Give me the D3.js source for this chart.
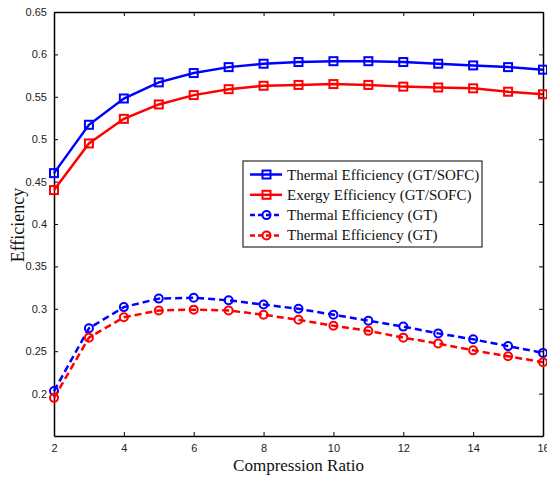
<!DOCTYPE html>
<html>
<head>
<meta charset="utf-8">
<script src="https://cdn.jsdelivr.net/npm/d3@7"></script>
<style>
  body { margin: 0; background: #fff; }
  svg { display: block; }
</style>
</head>
<body>
<svg id="chart" width="547" height="477"></svg>
<script>
var ratios = [2, 3, 4, 5, 6, 7, 8, 9, 10, 11, 12, 13, 14, 15, 16];
var thermalHybrid = [0.460, 0.517, 0.548, 0.567, 0.578, 0.585, 0.589, 0.591, 0.592, 0.592, 0.591, 0.589, 0.587, 0.585, 0.582];
var exergyHybrid = [0.440, 0.495, 0.524, 0.541, 0.552, 0.559, 0.563, 0.564, 0.565, 0.564, 0.562, 0.561, 0.560, 0.556, 0.553];
var thermalGT = [0.203, 0.277, 0.302, 0.312, 0.313, 0.310, 0.305, 0.300, 0.293, 0.286, 0.279, 0.271, 0.264, 0.256, 0.248];
var exergyGT = [0.195, 0.266, 0.290, 0.298, 0.299, 0.298, 0.293, 0.287, 0.280, 0.274, 0.266, 0.259, 0.251, 0.244, 0.237];
var xTicks = [2, 4, 6, 8, 10, 12, 14, 16];
var yTicks = [0.2, 0.25, 0.3, 0.35, 0.4, 0.45, 0.5, 0.55, 0.6, 0.65];
var seriesNames = ["Thermal Efficiency (GT/SOFC)", "Exergy Efficiency (GT/SOFC)", "Thermal Efficiency (GT)", "Thermal Efficiency (GT)"];

var series = [
  { name: seriesNames[0], values: thermalHybrid, color: "#0000ff", dash: null, marker: "square" },
  { name: seriesNames[1], values: exergyHybrid, color: "#ff0000", dash: null, marker: "square" },
  { name: seriesNames[2], values: thermalGT, color: "#0000ff", dash: "7,4", marker: "circle" },
  { name: seriesNames[3], values: exergyGT, color: "#ff0000", dash: "7,4", marker: "circle" }
];

var svg = d3.select("#chart"),
  margin = { top: 12, right: 4, bottom: 41, left: 54 },
  width = +svg.attr("width") - margin.left - margin.right,
  height = +svg.attr("height") - margin.top - margin.bottom,
  g = svg.append("g").attr("transform", "translate(" + margin.left + "," + margin.top + ")");

var x = d3.scaleLinear().domain([2, 16]).range([0, width]);
var y = d3.scaleLinear().domain([0.15, 0.65]).range([height, 0]);

var tickFont = "'Liberation Sans', Arial, sans-serif";
var serif = "'Liberation Serif', 'Times New Roman', serif";

// bottom axis with labels
var xAxis = g.append("g")
  .attr("transform", "translate(0," + height + ")")
  .call(d3.axisBottom(x).tickValues(xTicks).tickFormat(d3.format("d")).tickSizeInner(-4).tickSizeOuter(0).tickPadding(8));
// left axis with labels
var yAxis = g.append("g")
  .call(d3.axisLeft(y).tickValues(yTicks).tickFormat(function(d) { return d3.format("")(+d.toFixed(2)); }).tickSizeInner(-4).tickSizeOuter(0).tickPadding(7));
// top and right mirror ticks
var xTop = g.append("g")
  .call(d3.axisTop(x).tickValues(xTicks).tickFormat("").tickSizeInner(-4).tickSizeOuter(0));
var yRight = g.append("g")
  .attr("transform", "translate(" + width + ",0)")
  .call(d3.axisRight(y).tickValues(yTicks).tickFormat("").tickSizeInner(-4).tickSizeOuter(0));

[xAxis, yAxis, xTop, yRight].forEach(function(a) {
  a.selectAll(".domain").attr("stroke", "#000").attr("stroke-width", 1.5);
  a.selectAll(".tick line").attr("stroke", "#000").attr("stroke-width", 1);
  a.selectAll("text").attr("fill", "#222").style("font-family", tickFont).style("font-size", "11px");
});

var line = d3.line()
  .x(function(d, i) { return x(ratios[i]); })
  .y(function(d) { return y(d); });

function drawMarker(sel, type, color, cx, cy) {
  if (type === "square") {
    sel.append("rect")
      .attr("x", cx - 4).attr("y", cy - 4)
      .attr("width", 8).attr("height", 8)
      .attr("fill", "none").attr("stroke", color).attr("stroke-width", 2);
  } else {
    sel.append("circle")
      .attr("cx", cx).attr("cy", cy).attr("r", 4)
      .attr("fill", "none").attr("stroke", color).attr("stroke-width", 2);
  }
}

series.forEach(function(s) {
  g.append("path")
    .attr("fill", "none")
    .attr("stroke", s.color)
    .attr("stroke-width", 2.5)
    .attr("stroke-dasharray", s.dash)
    .attr("d", line(s.values));
  var mg = g.append("g");
  s.values.forEach(function(v, i) {
    drawMarker(mg, s.marker, s.color, x(ratios[i]), y(v));
  });
});

// axis titles
svg.append("text")
  .attr("x", margin.left + width / 2)
  .attr("y", 471)
  .attr("text-anchor", "middle")
  .style("font-family", serif)
  .style("font-size", "17px")
  .attr("fill", "#111")
  .text("Compression Ratio");

svg.append("text")
  .attr("transform", "translate(24," + (margin.top + 213) + ") rotate(-90)")
  .attr("text-anchor", "middle")
  .style("font-family", serif)
  .style("font-size", "18px")
  .attr("fill", "#111")
  .text("Efficiency");

// legend
var legend = svg.append("g").attr("transform", "translate(243,161)");
legend.append("rect")
  .attr("width", 239).attr("height", 86)
  .attr("fill", "#fff").attr("stroke", "#000").attr("stroke-width", 1);

series.forEach(function(s, i) {
  var ly = 13.5 + i * 20.3;
  var row = legend.append("g");
  row.append("line")
    .attr("x1", 7).attr("x2", 39).attr("y1", ly).attr("y2", ly)
    .attr("stroke", s.color).attr("stroke-width", 2.5)
    .attr("stroke-dasharray", s.dash ? "5,3" : null);
  drawMarker(row, s.marker, s.color, 23.5, ly);
  row.append("text")
    .attr("x", 44).attr("y", ly + 5)
    .style("font-family", serif)
    .style("font-size", "15px")
    .attr("fill", "#111")
    .text(s.name);
});
</script>
</body>
</html>
